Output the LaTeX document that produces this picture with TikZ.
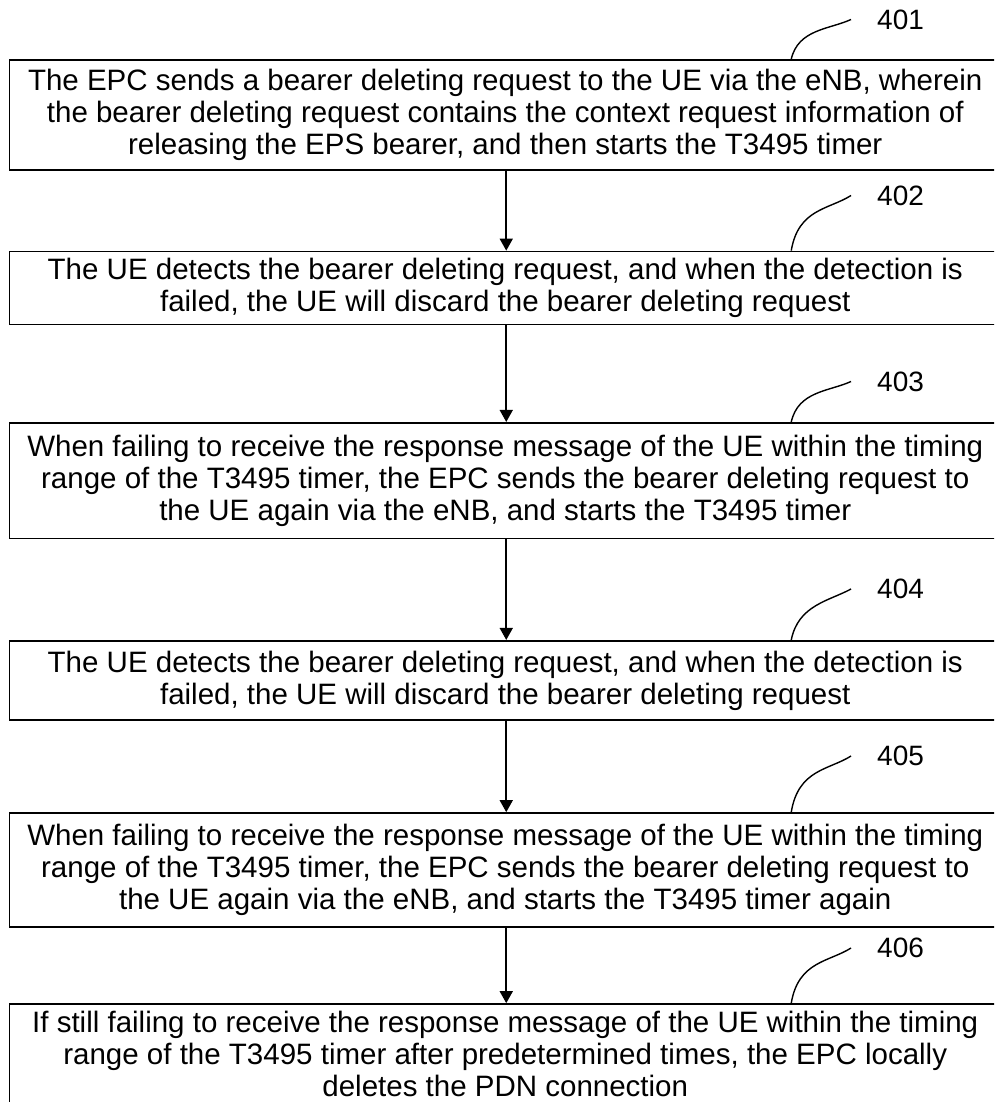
\documentclass[tikz,border=0pt]{standalone}
\usepackage{fontspec}
\setmainfont{Liberation Sans}
\usetikzlibrary{arrows.meta}

\begin{document}
\begin{tikzpicture}[
        x=1pt, y=-1pt,
        stepbox/.style={rectangle, draw, line width=1.7pt, minimum width=991.5pt, inner sep=0pt, align=center, font=\fontsize{29.5}{32}\selectfont},
        refnum/.style={anchor=west, inner sep=0pt, font=\fontsize{28}{32}\selectfont},
        flow/.style={draw, line width=1.6pt, -{Triangle[width=13pt, length=12pt]}},
        lead/.style={draw, line width=1.4pt}
    ]
    \useasboundingbox (0,0) rectangle (994,1102);
    \clip (0,0) rectangle (994,1102);
    \node[stepbox, minimum height=110pt] (s401) at (505.25,115) {The EPC sends a bearer deleting request to the UE via the eNB, wherein\\the bearer deleting request contains the context request information of\\releasing the EPS bearer, and then starts the T3495 timer};
    \node[stepbox, minimum height=73pt] (s402) at (505.25,288) {The UE detects the bearer deleting request, and when the detection is\\failed, the UE will discard the bearer deleting request};
    \node[stepbox, minimum height=115.8pt] (s403) at (505.25,480.7) {When failing to receive the response message of the UE within the timing\\range of the T3495 timer, the EPC sends the bearer deleting request to\\the UE again via the eNB, and starts the T3495 timer};
    \node[stepbox, minimum height=79.2pt] (s404) at (505.25,680.4) {The UE detects the bearer deleting request, and when the detection is\\failed, the UE will discard the bearer deleting request};
    \node[stepbox, minimum height=114pt] (s405) at (505.25,870) {When failing to receive the response message of the UE within the timing\\range of the T3495 timer, the EPC sends the bearer deleting request to\\the UE again via the eNB, and starts the T3495 timer again};
    \node[stepbox, minimum height=99pt] (s406) at (505.25,1053.5) {If still failing to receive the response message of the UE within the timing\\range of the T3495 timer after predetermined times, the EPC locally\\deletes the PDN connection};

    \node[refnum] (n401) at (877,19.5) {401};
    \node[refnum] (n402) at (877,195.5) {402};
    \node[refnum] (n403) at (877,381.5) {403};
    \node[refnum] (n404) at (877,589) {404};
    \node[refnum] (n405) at (877,756) {405};
    \node[refnum] (n406) at (877,948) {406};

    \draw[flow] ([xshift=1pt]s401.south) -- ([xshift=1pt]s402.north);
    \draw[flow] ([xshift=1pt]s402.south) -- ([xshift=1pt]s403.north);
    \draw[flow] ([xshift=1pt]s403.south) -- ([xshift=1pt]s404.north);
    \draw[flow] ([xshift=1pt]s404.south) -- ([xshift=1pt]s405.north);
    \draw[flow] ([xshift=1pt]s405.south) -- ([xshift=1pt]s406.north);

    \draw[lead] ([xshift=286pt]s401.north) .. controls +(7,-30) and +(-22,10) .. ([xshift=-26pt]n401.west);
    \draw[lead] ([xshift=286pt]s402.north) .. controls +(7,-42) and +(-22,14) .. ([xshift=-26pt]n402.west);
    \draw[lead] ([xshift=286pt]s403.north) .. controls +(7,-31) and +(-22,10) .. ([xshift=-26pt]n403.west);
    \draw[lead] ([xshift=286pt]s404.north) .. controls +(7,-35) and +(-22,12) .. ([xshift=-26pt]n404.west);
    \draw[lead] ([xshift=286pt]s405.north) .. controls +(7,-43) and +(-22,14) .. ([xshift=-26pt]n405.west);
    \draw[lead] ([xshift=286pt]s406.north) .. controls +(7,-42) and +(-22,14) .. ([xshift=-26pt]n406.west);
\end{tikzpicture}
\end{document}
